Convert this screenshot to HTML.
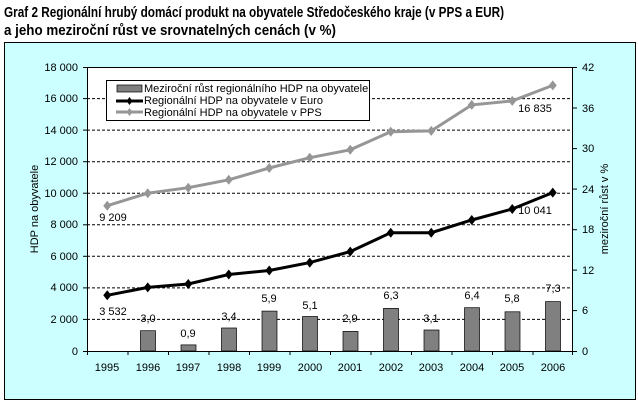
<!DOCTYPE html>
<html><head><meta charset="utf-8"><style>
body{margin:0;background:#fff;}
svg{display:block;font-family:"Liberation Sans",sans-serif;}
</style></head><body>
<svg width="638" height="405" xmlns="http://www.w3.org/2000/svg">
<text x="4" y="17" font-size="14.5" font-weight="bold" textLength="500" lengthAdjust="spacingAndGlyphs">Graf 2  Regionální hrubý domácí produkt na obyvatele Středočeského kraje (v PPS a EUR)</text>
<text x="4" y="35" font-size="14.5" font-weight="bold" textLength="332" lengthAdjust="spacingAndGlyphs">a jeho meziroční růst ve srovnatelných cenách  (v %)</text>
<rect x="4.5" y="42.5" width="631" height="357" fill="#CCFFFF" stroke="#000"/>
<rect x="87" y="67" width="486" height="284" fill="#fff"/>
<g stroke="#000" stroke-dasharray="3,2" stroke-width="1">
<line x1="87" y1="319.4" x2="573" y2="319.4"/><line x1="87" y1="287.9" x2="573" y2="287.9"/>
<line x1="87" y1="256.3" x2="573" y2="256.3"/><line x1="87" y1="224.8" x2="573" y2="224.8"/>
<line x1="87" y1="193.2" x2="573" y2="193.2"/><line x1="87" y1="161.7" x2="573" y2="161.7"/>
<line x1="87" y1="130.1" x2="573" y2="130.1"/><line x1="87" y1="98.6" x2="573" y2="98.6"/>
</g>
<line x1="87" y1="67.5" x2="573" y2="67.5" stroke="#000"/>
<g fill="#808080" stroke="#000" stroke-width="0.7">
<rect x="140.5" y="330.7" width="15" height="20.3"/>
<rect x="181" y="344.9" width="15" height="6.1"/>
<rect x="221.5" y="328" width="15" height="23"/>
<rect x="262" y="311.1" width="15" height="39.9"/>
<rect x="302.5" y="316.5" width="15" height="34.5"/>
<rect x="343" y="331.4" width="15" height="19.6"/>
<rect x="383.5" y="308.4" width="15" height="42.6"/>
<rect x="424" y="330" width="15" height="21"/>
<rect x="464.5" y="307.7" width="15" height="43.3"/>
<rect x="505" y="311.8" width="15" height="39.2"/>
<rect x="545.5" y="301.6" width="15" height="49.4"/>
</g>
<g stroke="#000" fill="none">
<line x1="87.5" y1="67" x2="87.5" y2="351"/><line x1="572.5" y1="67" x2="572.5" y2="351"/>
<line x1="87" y1="351.5" x2="573" y2="351.5"/>
</g>
<g stroke="#000">
<line x1="83" y1="67.5" x2="87" y2="67.5"/><line x1="83" y1="98.6" x2="87" y2="98.6"/><line x1="83" y1="130.1" x2="87" y2="130.1"/><line x1="83" y1="161.7" x2="87" y2="161.7"/><line x1="83" y1="193.2" x2="87" y2="193.2"/><line x1="83" y1="224.8" x2="87" y2="224.8"/><line x1="83" y1="256.3" x2="87" y2="256.3"/><line x1="83" y1="287.9" x2="87" y2="287.9"/><line x1="83" y1="319.4" x2="87" y2="319.4"/><line x1="83" y1="351.5" x2="87" y2="351.5"/>
<line x1="573" y1="67.5" x2="577" y2="67.5"/><line x1="573" y1="108" x2="577" y2="108"/><line x1="573" y1="148.6" x2="577" y2="148.6"/><line x1="573" y1="189.1" x2="577" y2="189.1"/><line x1="573" y1="229.7" x2="577" y2="229.7"/><line x1="573" y1="270.1" x2="577" y2="270.1"/><line x1="573" y1="310.6" x2="577" y2="310.6"/><line x1="573" y1="351.5" x2="577" y2="351.5"/>
<line x1="87.5" y1="351" x2="87.5" y2="355"/><line x1="128" y1="351" x2="128" y2="355"/><line x1="168.5" y1="351" x2="168.5" y2="355"/><line x1="209" y1="351" x2="209" y2="355"/><line x1="249.5" y1="351" x2="249.5" y2="355"/><line x1="290" y1="351" x2="290" y2="355"/><line x1="330.5" y1="351" x2="330.5" y2="355"/><line x1="371" y1="351" x2="371" y2="355"/><line x1="411.5" y1="351" x2="411.5" y2="355"/><line x1="452" y1="351" x2="452" y2="355"/><line x1="492.5" y1="351" x2="492.5" y2="355"/><line x1="533" y1="351" x2="533" y2="355"/><line x1="572.5" y1="351" x2="572.5" y2="355"/>
</g>
<g font-size="11" text-anchor="end">
<text x="78" y="71">18 000</text><text x="78" y="102">16 000</text><text x="78" y="134">14 000</text><text x="78" y="165">12 000</text><text x="78" y="197">10 000</text><text x="78" y="228">8 000</text><text x="78" y="260">6 000</text><text x="78" y="291">4 000</text><text x="78" y="323">2 000</text><text x="78" y="355">0</text>
</g>
<g font-size="11">
<text x="582" y="71">42</text><text x="582" y="112">36</text><text x="582" y="152">30</text><text x="582" y="193">24</text><text x="582" y="233">18</text><text x="582" y="274">12</text><text x="582" y="314">6</text><text x="582" y="355">0</text>
</g>
<g font-size="11" text-anchor="middle">
<text x="107" y="371">1995</text><text x="148" y="371">1996</text><text x="188" y="371">1997</text><text x="229" y="371">1998</text><text x="269" y="371">1999</text><text x="310" y="371">2000</text><text x="350" y="371">2001</text><text x="391" y="371">2002</text><text x="431" y="371">2003</text><text x="472" y="371">2004</text><text x="512" y="371">2005</text><text x="553" y="371">2006</text>
</g>
<text transform="translate(38,209) rotate(-90)" font-size="11" text-anchor="middle">HDP na obyvatele</text>
<text transform="translate(608,209) rotate(-90)" font-size="11" text-anchor="middle">meziroční růst v %</text>
<polyline fill="none" stroke="#969696" stroke-width="3" points="107.25,205.7 147.75,193.2 188.25,187.7 228.75,179.8 269.25,168 309.75,157.7 350.25,149.8 390.75,131.7 431.25,130.9 471.75,104.9 512.25,100.9 552.75,85.4"/>
<g fill="#969696">
<path d="M107.25,200.7l4,5l-4,5l-4,-5z"/><path d="M147.75,188.2l4,5l-4,5l-4,-5z"/><path d="M188.25,182.7l4,5l-4,5l-4,-5z"/><path d="M228.75,174.8l4,5l-4,5l-4,-5z"/><path d="M269.25,163l4,5l-4,5l-4,-5z"/><path d="M309.75,152.7l4,5l-4,5l-4,-5z"/><path d="M350.25,144.8l4,5l-4,5l-4,-5z"/><path d="M390.75,126.7l4,5l-4,5l-4,-5z"/><path d="M431.25,125.9l4,5l-4,5l-4,-5z"/><path d="M471.75,99.9l4,5l-4,5l-4,-5z"/><path d="M512.25,95.9l4,5l-4,5l-4,-5z"/><path d="M552.75,80.4l4,5l-4,5l-4,-5z"/>
</g>
<polyline fill="none" stroke="#000" stroke-width="3" points="107.25,295.3 147.75,287.4 188.25,284 228.75,274.5 269.25,270.5 309.75,262.6 350.25,251.6 390.75,232.7 431.25,232.7 471.75,220 512.25,209 552.75,192.6"/>
<g fill="#000">
<path d="M107.25,290.3l4,5l-4,5l-4,-5z"/><path d="M147.75,282.4l4,5l-4,5l-4,-5z"/><path d="M188.25,279l4,5l-4,5l-4,-5z"/><path d="M228.75,269.5l4,5l-4,5l-4,-5z"/><path d="M269.25,265.5l4,5l-4,5l-4,-5z"/><path d="M309.75,257.6l4,5l-4,5l-4,-5z"/><path d="M350.25,246.6l4,5l-4,5l-4,-5z"/><path d="M390.75,227.7l4,5l-4,5l-4,-5z"/><path d="M431.25,227.7l4,5l-4,5l-4,-5z"/><path d="M471.75,215l4,5l-4,5l-4,-5z"/><path d="M512.25,204l4,5l-4,5l-4,-5z"/><path d="M552.75,187.6l4,5l-4,5l-4,-5z"/>
</g>
<g font-size="11" text-anchor="middle">
<text x="113" y="221">9 209</text><text x="535" y="112">16 835</text><text x="535" y="214">10 041</text>
<text x="113" y="315">3 532</text>
<text x="148" y="322">3,0</text><text x="188" y="337">0,9</text><text x="229" y="320">3,4</text><text x="269" y="302">5,9</text><text x="310" y="309">5,1</text><text x="350" y="322">2,9</text><text x="391" y="299">6,3</text><text x="431" y="322">3,1</text><text x="472" y="299">6,4</text><text x="512" y="302">5,8</text><text x="553" y="292">7,3</text>
</g>
<rect x="106.5" y="80.5" width="263" height="40" fill="#fff" stroke="#000"/>
<rect x="117" y="85" width="25" height="7" fill="#808080" stroke="#000" stroke-width="0.7"/>
<line x1="116" y1="101" x2="143" y2="101" stroke="#000" stroke-width="3"/>
<path d="M129.5,97l3,4l-3,4l-3,-4z" fill="#000"/>
<line x1="116" y1="112" x2="143" y2="112" stroke="#969696" stroke-width="3"/>
<path d="M129.5,108l3,4l-3,4l-3,-4z" fill="#969696"/>
<g font-size="11">
<text x="144" y="92">Meziroční růst regionálního HDP na obyvatele</text>
<text x="144" y="104">Regionální HDP na obyvatele v Euro</text>
<text x="144" y="116">Regionální HDP na obyvatele v PPS</text>
</g>
</svg>
</body></html>
